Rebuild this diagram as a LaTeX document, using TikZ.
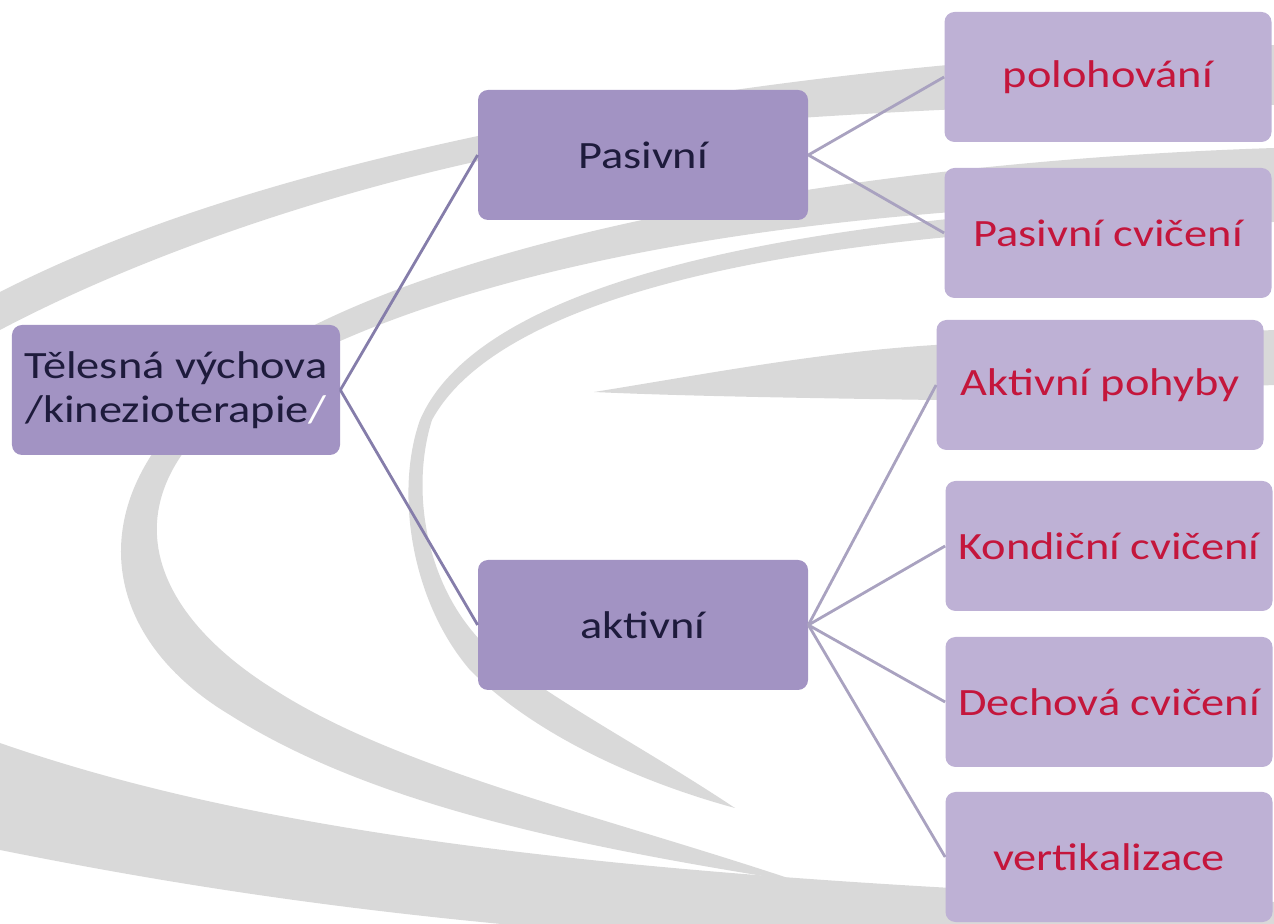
\documentclass[tikz,border=0pt]{standalone}
\usepackage{fontspec}
\setmainfont{Carlito}[FakeStretch=1.2]
\usetikzlibrary{positioning}
\definecolor{boxD}{HTML}{A293C3}
\definecolor{boxL}{HTML}{BEB1D5}
\definecolor{inkN}{HTML}{1E1B3C}
\definecolor{inkR}{HTML}{C4163C}
\definecolor{linkD}{HTML}{857DAA}
\definecolor{linkL}{HTML}{A9A2C0}
\definecolor{swoosh}{HTML}{D9D9D9}
\tikzset{
  box/.style={rounded corners=2mm, minimum width=66mm, minimum height=26mm,
              inner sep=2pt, align=center, font=\fontsize{22}{25}\selectfont},
  mainbox/.style={box, fill=boxD, text=inkN},
  leafbox/.style={box, fill=boxL, text=inkR, minimum width=65.4mm},
  link/.style={linkD, line width=1.6pt},
  sublink/.style={linkL, line width=1.6pt},
  swirl/.style={fill=swoosh, draw=none},
}

\begin{document}
\begin{tikzpicture}[x=0.2mm, y=-0.2mm]
  \useasboundingbox (0,0) rectangle (1274,924);
  % background swirls
  \begin{scope}
    \clip (0,0) rectangle (1274,924);
    \fill[swirl] (0,292) .. controls (180,200) and (420,140) .. (700,95)
      .. controls (900,65) and (1100,50) .. (1274,45)
      -- (1274,105) .. controls (1100,100) and (900,110) .. (700,125)
      .. controls (450,150) and (180,235) .. (0,330) -- cycle;
    \fill[swirl] (1274,148) .. controls (900,160) and (470,225) .. (260,355)
      .. controls (80,465) and (80,625) .. (230,715)
      .. controls (380,810) and (600,850) .. (800,882)
      .. controls (600,815) and (400,770) .. (275,690)
      .. controls (130,600) and (100,470) .. (290,365)
      .. controls (520,245) and (900,200) .. (1274,200) -- cycle;
    \fill[swirl] (1274,200) .. controls (800,210) and (480,280) .. (420,420)
      .. controls (395,490) and (410,600) .. (470,670)
      .. controls (540,740) and (650,785) .. (735,808)
      .. controls (640,745) and (560,705) .. (490,650)
      .. controls (425,590) and (410,490) .. (432,420)
      .. controls (500,295) and (800,225) .. (1274,222) -- cycle;
    \fill[swirl] (594,392) .. controls (700,375) and (820,352) .. (935,345)
      -- (1274,330) -- (1274,385) -- (935,400)
      .. controls (800,398) and (680,396) .. (594,392) -- cycle;
    \fill[swirl] (0,743) .. controls (250,830) and (600,880) .. (1274,902)
      -- (1274,940) -- (700,940)
      .. controls (400,920) and (200,890) .. (0,850) -- cycle;
  \end{scope}
  % root
  \node[mainbox, minimum width=65.6mm] (telvych) at (176,390)
    {Tělesná výchova\\/kinezioterapie{\color{white}/}};
  % middle level
  \node[mainbox] (pasiv) at (643,155) {Pasivní};
  \node[mainbox] (aktiv) at (643,625) {aktivní};
  % leaves
  \node[leafbox] (poloh) at (1108,77) {polohování};
  \node[leafbox] (pascv) at (1108,233) {Pasivní cvičení};
  \node[leafbox] (aktpoh) at (1100,385) {Aktivní pohyby};
  \node[leafbox] (kondcv) at (1109,546) {Kondiční cvičení};
  \node[leafbox] (dechcv) at (1109,702) {Dechová cvičení};
  \node[leafbox] (vertik) at (1109,857) {vertikalizace};
  % connectors
  \draw[link] (telvych.east) -- (pasiv.west);
  \draw[link] (telvych.east) -- (aktiv.west);
  \draw[sublink] (pasiv.east) -- (poloh.west);
  \draw[sublink] (pasiv.east) -- (pascv.west);
  \draw[sublink] (aktiv.east) -- (aktpoh.west);
  \draw[sublink] (aktiv.east) -- (kondcv.west);
  \draw[sublink] (aktiv.east) -- (dechcv.west);
  \draw[sublink] (aktiv.east) -- (vertik.west);
\end{tikzpicture}
\end{document}
